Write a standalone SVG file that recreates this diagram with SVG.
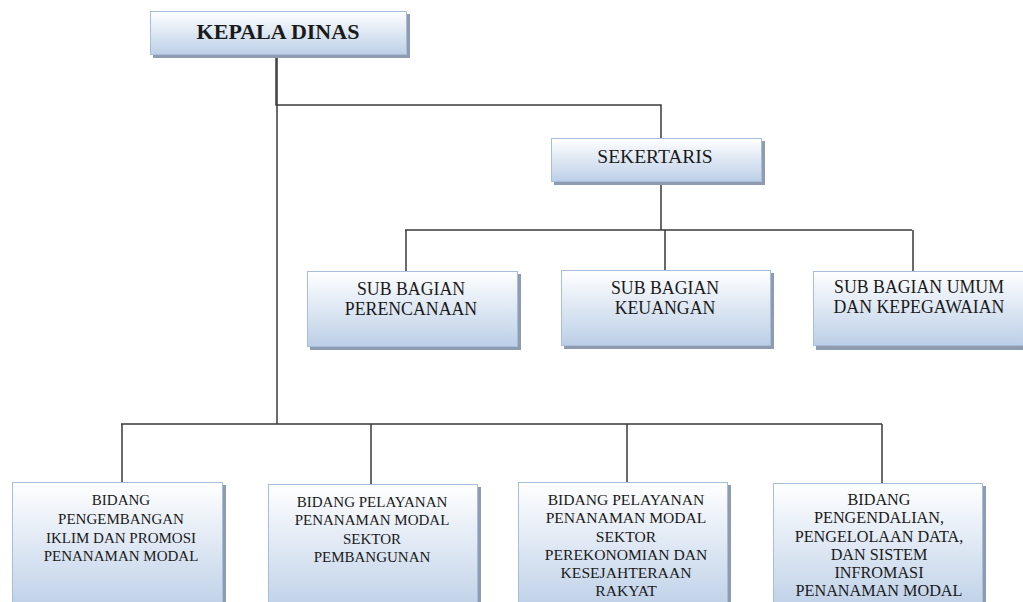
<svg xmlns="http://www.w3.org/2000/svg" width="1023" height="602" viewBox="0 0 1023 602">
<defs>
<linearGradient id="g" x1="0" y1="0" x2="0" y2="1">
<stop offset="0" stop-color="#ffffff"/>
<stop offset="1" stop-color="#bccfe7"/>
</linearGradient>
<style>
.sh{fill:#8e9bb0}
.bx{fill:url(#g);stroke:#a6bddb;stroke-width:1}
.t{font-family:'Liberation Serif','Times New Roman',serif;fill:#1a1a1a;text-anchor:middle}
.b15{font-size:15px}
.b16{font-size:15.6px}
.b17{font-size:16.2px}
.s17{font-size:17.8px}
.c{fill:none;stroke:#3a3a3a;stroke-width:1.5}
</style>
</defs>
<rect width="1023" height="602" fill="#ffffff"/>
<g id="connectors">
<path class="c" d="M276 56V105H661V138"/>
<path class="c" d="M277 56V424"/>
<path class="c" d="M661 182V230M405 230H912M406 230V271M665 230V270M913 230V271"/>
<path class="c" d="M121 424H882M122 424V482M371 424V484M627 424V482M882 424V483"/>
</g>
<g id="kepala-dinas">
<rect class="sh" x="153" y="14" width="257" height="44"/>
<rect class="bx" x="150.5" y="11.5" width="256" height="43"/>
<text class="t" x="278" y="38.5" font-size="22" font-weight="bold">KEPALA DINAS</text>
</g>
<g id="sekertaris">
<rect class="sh" x="554" y="141" width="211" height="44"/>
<rect class="bx" x="551.5" y="138.5" width="210" height="43"/>
<text class="t" x="655" y="163" font-size="19.5">SEKERTARIS</text>
</g>
<g id="sub-perencanaan">
<rect class="sh" x="310" y="274" width="211" height="76"/>
<rect class="bx" x="307.5" y="271.5" width="210" height="75"/>
<text class="t s17" x="411" y="295">SUB BAGIAN</text>
<text class="t s17" x="411" y="315">PERENCANAAN</text>
</g>
<g id="sub-keuangan">
<rect class="sh" x="564" y="273" width="210" height="76"/>
<rect class="bx" x="561.5" y="270.5" width="209" height="75"/>
<text class="t s17" x="665" y="294">SUB BAGIAN</text>
<text class="t s17" x="665" y="314">KEUANGAN</text>
</g>
<g id="sub-umum">
<rect class="sh" x="816" y="274" width="215" height="76"/>
<rect class="bx" x="813.5" y="271.5" width="215" height="74"/>
<text class="t s17" x="919" y="293">SUB BAGIAN UMUM</text>
<text class="t s17" x="919" y="313">DAN KEPEGAWAIAN</text>
</g>
<g id="bidang-1">
<rect class="sh" x="15" y="485" width="211" height="130"/>
<rect class="bx" x="12.5" y="482.5" width="210" height="130"/>
<text class="t b15" x="121" y="505">BIDANG</text>
<text class="t b15" x="121" y="524">PENGEMBANGAN</text>
<text class="t b15" x="121" y="543">IKLIM DAN PROMOSI</text>
<text class="t b15" x="121" y="561">PENANAMAN MODAL</text>
</g>
<g id="bidang-2">
<rect class="sh" x="271" y="487" width="210" height="130"/>
<rect class="bx" x="268.5" y="484.5" width="209" height="130"/>
<text class="t b15" x="372" y="507">BIDANG PELAYANAN</text>
<text class="t b15" x="372" y="525">PENANAMAN MODAL</text>
<text class="t b15" x="372" y="544">SEKTOR</text>
<text class="t b15" x="372" y="562">PEMBANGUNAN</text>
</g>
<g id="bidang-3">
<rect class="sh" x="521" y="485" width="210" height="130"/>
<rect class="bx" x="518.5" y="482.5" width="209" height="130"/>
<text class="t b16" x="626" y="505">BIDANG PELAYANAN</text>
<text class="t b16" x="626" y="523">PENANAMAN MODAL</text>
<text class="t b16" x="626" y="542">SEKTOR</text>
<text class="t b16" x="626" y="560">PEREKONOMIAN DAN</text>
<text class="t b16" x="626" y="578">KESEJAHTERAAN</text>
<text class="t b16" x="626" y="596">RAKYAT</text>
</g>
<g id="bidang-4">
<rect class="sh" x="776" y="486" width="210" height="130"/>
<rect class="bx" x="773.5" y="483.5" width="209" height="130"/>
<text class="t b17" x="879" y="505">BIDANG</text>
<text class="t b17" x="879" y="523">PENGENDALIAN,</text>
<text class="t b17" x="879" y="542">PENGELOLAAN DATA,</text>
<text class="t b17" x="879" y="560">DAN SISTEM</text>
<text class="t b17" x="879" y="578">INFROMASI</text>
<text class="t b17" x="879" y="596">PENANAMAN MODAL</text>
</g>
</svg>
